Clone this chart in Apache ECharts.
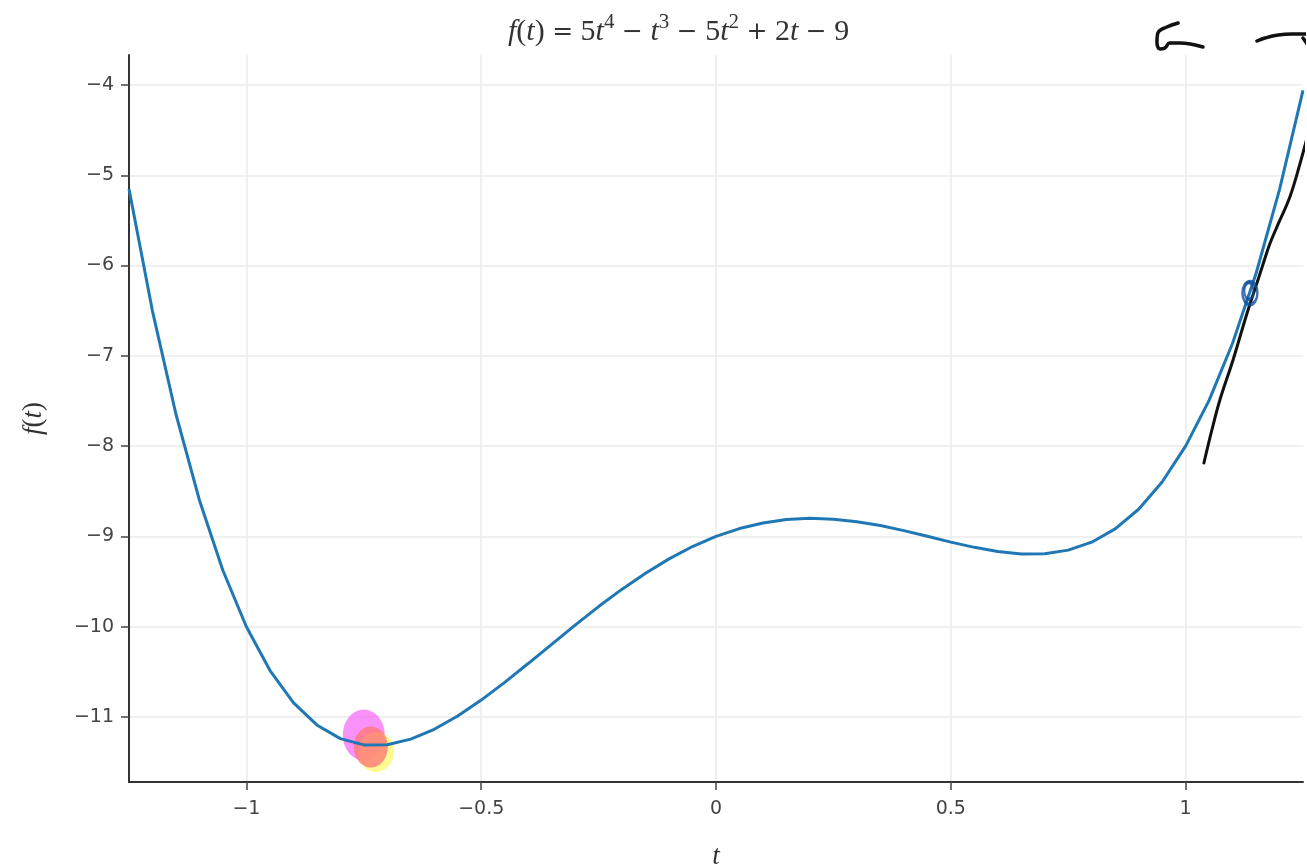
<!DOCTYPE html>
<html>
<head>
<meta charset="utf-8">
<script src="https://cdn.jsdelivr.net/npm/echarts@6/dist/echarts.min.js"></script>
<style>
html, body { margin: 0; padding: 0; background: #fff; }
#main { width: 1307px; height: 866px; }
</style>
</head>
<body>
<div id="main"></div>
<script>
// sample points of the curve
var tValues = [-1.25, -1.2, -1.15, -1.1, -1.05, -1, -0.95, -0.9, -0.85, -0.8, -0.75, -0.7, -0.65, -0.6, -0.55,
    -0.5, -0.45, -0.4, -0.35, -0.3, -0.25, -0.2, -0.15, -0.1, -0.05, 0, 0.05, 0.1, 0.15, 0.2, 0.25, 0.3, 0.35,
    0.4, 0.45, 0.5, 0.55, 0.6, 0.65, 0.7, 0.75, 0.8, 0.85, 0.9, 0.95, 1, 1.05, 1.1, 1.15, 1.2, 1.25];
var fValues = [-5.152, -6.504, -7.647, -8.599, -9.377, -10.0, -10.483, -10.841, -11.088, -11.24, -11.309, -11.307,
    -11.245, -11.136, -10.989, -10.813, -10.616, -10.408, -10.195, -9.983, -9.777, -9.584, -9.407, -9.249, -9.112,
    -9.0, -8.913, -8.851, -8.813, -8.8, -8.809, -8.837, -8.88, -8.936, -8.999, -9.063, -9.121, -9.168, -9.195,
    -9.193, -9.152, -9.064, -8.917, -8.699, -8.397, -8.0, -7.493, -6.861, -6.088, -5.16, -4.059];

var xTicks = [-1, -0.5, 0, 0.5, 1];
var yTicks = [-11, -10, -9, -8, -7, -6, -5, -4];

// pen scribbles on top of the plot (data coords)
var penLine = [[1.039, -8.187], [1.056, -7.821], [1.073, -7.489], [1.101, -7.046], [1.131, -6.525],
    [1.154, -6.160], [1.163, -6.016], [1.180, -5.750], [1.201, -5.495], [1.222, -5.241], [1.244, -4.864], [1.259, -4.576]];
var arrowLeft = [[0.984, -3.314], [0.960, -3.358], [0.941, -3.424], [0.939, -3.524], [0.945, -3.601],
    [0.956, -3.590], [0.966, -3.535], [0.988, -3.535], [1.037, -3.579]];
var arrowRight = [[1.152, -3.513], [1.169, -3.480], [1.197, -3.446], [1.227, -3.435], [1.259, -3.435]];
var arrowTip = [[1.250, -3.480], [1.259, -3.546]];
var penCircle = [[1.137, -6.304]];
var blobPink = [[-0.750, -11.199]];
var blobYellow = [[-0.724, -11.387]];
var blobRed = [[-0.735, -11.332]];

var myChart = echarts.init(document.getElementById('main'));

function minus(v) {
    return String(v).replace('-', '\u2212');
}

function pen(data, w) {
    return {
        type: 'line',
        data: data,
        smooth: 0.4,
        symbol: 'none',
        clip: false,
        silent: true,
        z: 5,
        lineStyle: { color: '#111', width: w, cap: 'round', join: 'round' }
    };
}

function blob(data, size, color) {
    return {
        type: 'scatter',
        data: data,
        symbol: 'circle',
        symbolSize: size,
        silent: true,
        z: 1,
        itemStyle: { color: color }
    };
}

var serif = 'Liberation Serif';
var labelFont = 'DejaVu Sans';

option = {
    animation: false,
    backgroundColor: '#fff',
    title: {
        text: '{i|f}{n|(}{i|t}{n|) }{o|=}{n| 5}{i|t}{s|4}{n| }{o|\u2212}{n| }{i|t}{s|3}{n| }{o|\u2212}{n| 5}{i|t}{s|2}{n| }{o|+}{n| 2}{i|t}{n| }{o|\u2212}{n| 9}',
        left: 508,
        top: 12,
        padding: 0,
        textStyle: {
            fontWeight: 'normal',
            rich: {
                n: { fontFamily: serif, fontSize: 30, fontWeight: 'normal', color: '#333', lineHeight: 40 },
                i: { fontFamily: serif, fontSize: 30, fontStyle: 'italic', fontWeight: 'normal', color: '#333', lineHeight: 40 },
                o: { fontFamily: 'DejaVu Serif', fontSize: 25, fontWeight: 'normal', color: '#333', lineHeight: 40 },
                s: { fontFamily: serif, fontSize: 21, fontWeight: 'normal', color: '#333', verticalAlign: 'top', lineHeight: 20 }
            }
        }
    },
    grid: { left: 129, right: 4, top: 55, bottom: 84, containLabel: false, outerBoundsMode: 'none' },
    xAxis: {
        type: 'value',
        min: -1.25,
        max: 1.25,
        name: 't',
        nameLocation: 'middle',
        nameGap: 61,
        nameTextStyle: { fontFamily: serif, fontStyle: 'italic', fontSize: 27, color: '#333' },
        axisLine: { show: true, onZero: false, lineStyle: { color: '#333', width: 2 } },
        axisTick: { show: true, length: 8, lineStyle: { color: '#444', width: 1.5 }, customValues: xTicks },
        axisLabel: { fontFamily: labelFont, fontSize: 19, color: '#444', margin: 18, formatter: minus, customValues: xTicks },
        splitLine: { show: true, lineStyle: { color: '#ebebeb', width: 1.5 } }
    },
    yAxis: {
        type: 'value',
        min: -11.72,
        max: -3.668,
        name: '{i|f}{n|(}{i|t}{n|)}',
        nameLocation: 'middle',
        nameGap: 82,
        nameRotate: 90,
        nameTextStyle: {
            rich: {
                n: { fontFamily: serif, fontSize: 27, color: '#333' },
                i: { fontFamily: serif, fontSize: 27, fontStyle: 'italic', color: '#333' }
            }
        },
        axisLine: { show: true, onZero: false, lineStyle: { color: '#333', width: 2 } },
        axisTick: { show: true, length: 8, lineStyle: { color: '#444', width: 1.5 }, customValues: yTicks },
        axisLabel: { fontFamily: labelFont, fontSize: 19, color: '#444', margin: 15, formatter: minus, customValues: yTicks },
        splitLine: { show: true, lineStyle: { color: '#ebebeb', width: 1.5 } }
    },
    series: [
        blob(blobPink, [42, 51], 'rgba(246, 110, 246, 0.95)'),
        blob(blobYellow, [36, 40], 'rgba(255, 250, 110, 0.95)'),
        blob(blobRed, [34, 41], 'rgba(255, 118, 118, 0.97)'),
        {
            name: 'f(t)',
            type: 'line',
            data: tValues.map(function (t, i) { return [t, fValues[i]]; }),
            symbol: 'none',
            z: 3,
            lineStyle: { color: '#1f77b4', width: 3 }
        },
        pen(penLine, 3),
        pen(arrowLeft, 3.5),
        pen(arrowRight, 3.5),
        pen(arrowTip, 3.5),
        {
            type: 'scatter',
            data: penCircle,
            symbol: 'circle',
            symbolSize: [15, 23],
            silent: true,
            z: 6,
            itemStyle: { color: 'rgba(0,0,0,0)', borderColor: '#0f4d99', borderWidth: 3 }
        },
        {
            type: 'scatter',
            data: penCircle,
            symbol: 'circle',
            symbolSize: [9, 17],
            symbolOffset: [-1, -2],
            silent: true,
            z: 6,
            itemStyle: { color: 'rgba(0,0,0,0)', borderColor: '#0f4d99', borderWidth: 2.5 }
        }
    ]
};
myChart.setOption(option);
window.addEventListener('resize', function () {
    myChart.resize();
});
</script>
</body>
</html>
